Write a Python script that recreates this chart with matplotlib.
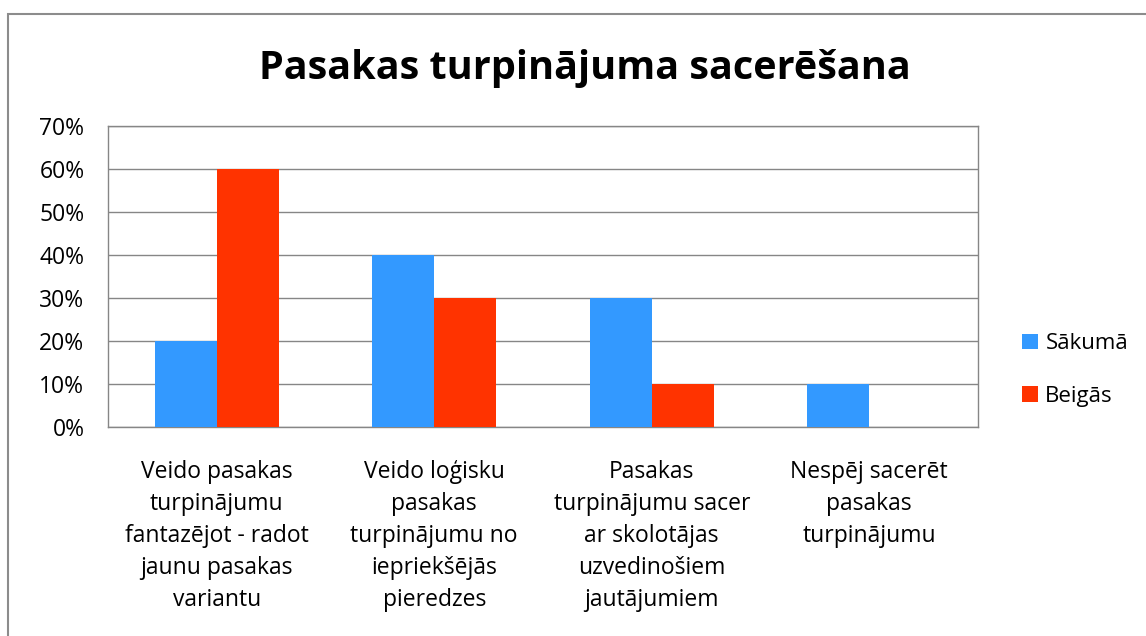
import numpy as np
import matplotlib.pyplot as plt
from matplotlib.patches import Rectangle

plt.rcParams['font.family'] = ['Open Sans', 'DejaVu Sans']

categories = ['Veido pasakas\nturpinājumu\nfantazējot - radot\njaunu pasakas\nvariantu',
              'Veido loģisku\npasakas\nturpinājumu no\niepriekšējās\npieredzes',
              'Pasakas\nturpinājumu sacer\nar skolotājas\nuzvedinošiem\njautājumiem',
              'Nespēj sacerēt\npasakas\nturpinājumu']
sakuma = [20, 40, 30, 10]
beigas = [60, 30, 10, 0]
ticks = [0, 10, 20, 30, 40, 50, 60, 70]

blue = '#3399FF'
red = '#FF3300'
grid = '#868686'

fig = plt.figure(figsize=(11.46, 6.36), dpi=100)
fig.patches.append(Rectangle((8/1146, -0.1), 1.2, 1-14/636+0.1, transform=fig.transFigure,
                             fill=False, edgecolor='#8c8c8c', linewidth=1.5))
ax = fig.add_axes([108/1146, 1-427/636, 870/1146, 301/636])

x = np.arange(len(categories))
w = 0.285
ax.bar(x - w/2, sakuma, w, color=blue, label='Sākumā', zorder=3)
ax.bar(x + w/2, beigas, w, color=red, label='Beigās', zorder=3)

ax.set_xlim(-0.5, len(categories) - 0.5)
ax.set_ylim(0, 70)
ax.set_yticks(ticks)
ax.set_yticklabels([f'{t}%' for t in ticks], fontsize=16.5)
ax.yaxis.grid(True, color=grid, linewidth=1, zorder=0)
ax.tick_params(axis='y', length=0, pad=17)
ax.tick_params(axis='x', length=0, pad=24)
ax.set_xticks(x)
ax.set_xticklabels(categories, fontsize=16.5, linespacing=1.44)
for s in ax.spines.values():
    s.set_color(grid)
    s.set_linewidth(1)

fig.text(585/1146, 1-69/636, 'Pasakas turpinājuma sacerēšana', ha='center', va='center',
         fontsize=28.5, fontweight='bold')

ax.legend(loc='center left', bbox_to_anchor=(1002/1146, 1-370/636), bbox_transform=fig.transFigure,
          frameon=False, fontsize=16, handlelength=0.7, handleheight=0.7, handletextpad=0.35,
          labelspacing=1.4)

fig.savefig('out.png', dpi=100)
